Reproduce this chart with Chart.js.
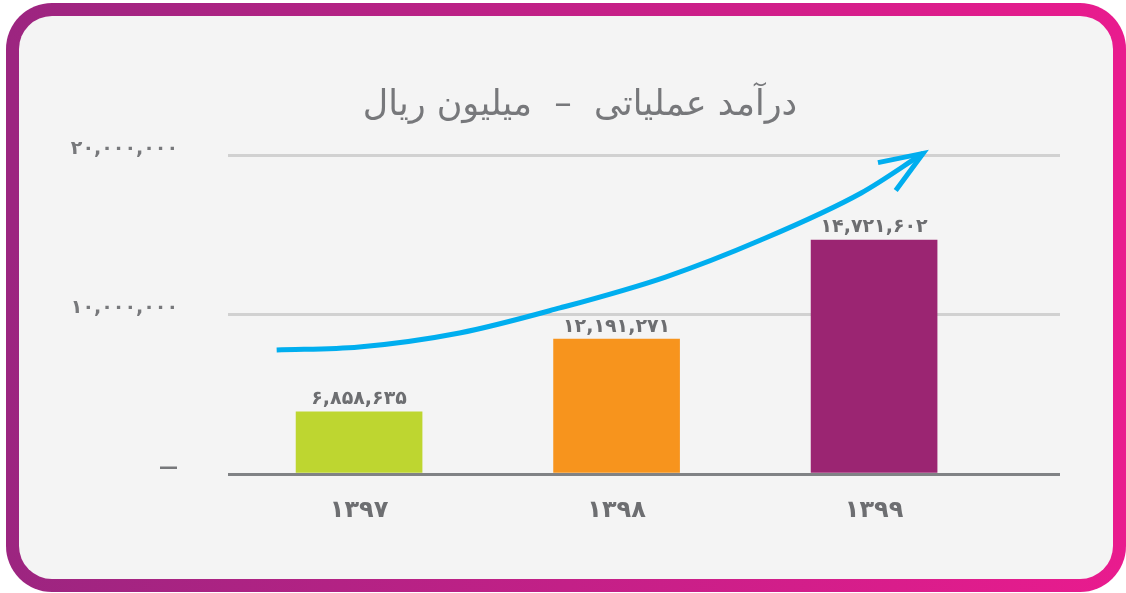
<!DOCTYPE html>
<html>
<head>
<meta charset="utf-8">
<script src="https://cdn.jsdelivr.net/npm/chart.js@4"></script>
<style>
    html, body { margin: 0; padding: 0; background: #ffffff; }
    #frame {
        position: absolute; left: 6px; top: 3px; width: 1120px; height: 589px;
        box-sizing: border-box; border: 13px solid transparent; border-radius: 46px;
        background: linear-gradient(#f4f4f4, #f4f4f4) padding-box,
                    linear-gradient(90deg, #9c2580, #e91b8e) border-box;
    }
    #revenueChart { position: absolute; left: 0; top: 0; }
</style>
</head>
<body>
<div id="frame"></div>
<canvas id="revenueChart" width="1126" height="593"></canvas>
<script>
// data
const years = ['۱۳۹۷', '۱۳۹۸', '۱۳۹۹'];
const barHeights = [3890000, 8460000, 14670000];          // bar tops as drawn
const valueLabels = ['۶,۸۵۸,۶۳۵', '۱۲,۱۹۱,۲۷۱', '۱۴,۷۲۱,۶۰۲']; // printed labels
const barColors = ['#bed630', '#f7941d', '#9b2572'];
const yTickLabels = ['—', '۱۰,۰۰۰,۰۰۰', '۲۰,۰۰۰,۰۰۰'];
const titleText = 'درآمد عملیاتی  –  میلیون ریال';

// trend arrow (in data units: category index / value)
const arrowX = [-0.32, 0.0, 0.39, 0.78, 1.19, 1.56, 1.95, 2.19];
const arrowY = [7770000, 7960000, 8840000, 10410000, 12350000, 14670000, 17620000, 20100000];

const textGray = '#6d6e71';
const fontFamily = '"DejaVu Sans", sans-serif';

const titlePlugin = {
    id: 'persianTitle',
    afterDraw(chart) {
        const ctx = chart.ctx;
        ctx.save();
        ctx.font = '35px ' + fontFamily;
        ctx.fillStyle = '#77787b';
        ctx.textAlign = 'center';
        ctx.textBaseline = 'middle';
        ctx.direction = 'rtl';
        ctx.fillText(titleText, chart.width / 2 + 17, 106);
        ctx.restore();
    }
};

const labelsAndArrow = {
    id: 'labelsAndArrow',
    afterDatasetsDraw(chart) {
        const ctx = chart.ctx;
        // value labels above bars
        const bars = chart.getDatasetMeta(0).data;
        ctx.save();
        ctx.font = 'bold 19px ' + fontFamily;
        ctx.fillStyle = textGray;
        ctx.textAlign = 'center';
        ctx.textBaseline = 'bottom';
        bars.forEach((bar, i) => {
            ctx.fillText(valueLabels[i], bar.x, bar.y - 3);
        });
        ctx.restore();

        // arrow head at end of the trend line
        const pts = chart.getDatasetMeta(1).data;
        const tip = pts[pts.length - 1];
        const prev = pts[pts.length - 2];
        const back = Math.atan2(prev.y - tip.y, prev.x - tip.x);
        const len = 46;
        const spread = 21 * Math.PI / 180;
        ctx.save();
        ctx.strokeStyle = '#00aeef';
        ctx.lineWidth = 5;
        ctx.lineCap = 'butt';
        ctx.beginPath();
        ctx.moveTo(tip.x + len * Math.cos(back + spread), tip.y + len * Math.sin(back + spread));
        ctx.lineTo(tip.x, tip.y);
        ctx.lineTo(tip.x + len * Math.cos(back - spread), tip.y + len * Math.sin(back - spread));
        ctx.stroke();
        ctx.restore();
    }
};

const ctx = document.getElementById('revenueChart').getContext('2d');
new Chart(ctx, {
    data: {
        datasets: [{
            type: 'bar',
            data: years.map((y, i) => ({ x: i, y: barHeights[i] })),
            backgroundColor: barColors,
            barThickness: 126,
            borderWidth: 0,
            order: 2
        }, {
            type: 'line',
            data: arrowX.map((x, i) => ({ x: x, y: arrowY[i] })),
            borderColor: '#00aeef',
            borderWidth: 5,
            pointRadius: 0,
            cubicInterpolationMode: 'monotone',
            fill: false,
            clip: false,
            order: 1
        }]
    },
    options: {
        responsive: false,
        animation: false,
        layout: {
            padding: { left: 0, right: 66, top: 155, bottom: 0 }
        },
        plugins: {
            legend: { display: false },
            tooltip: { enabled: false },
            title: { display: false }
        },
        scales: {
            x: {
                type: 'linear',
                offset: false,
                min: -0.509,
                max: 2.722,
                afterBuildTicks: scale => {
                    scale.ticks = years.map((y, i) => ({ value: i }));
                },
                afterFit: scale => { scale.height = 119; },
                grid: { display: false },
                border: { display: false },
                ticks: {
                    callback: v => years[v],
                    color: textGray,
                    padding: 14,
                    maxRotation: 0,
                    font: { family: fontFamily, size: 24, weight: 'bold' }
                }
            },
            y: {
                min: 0,
                max: 20000000,
                afterFit: scale => { scale.width = 228; },
                afterBuildTicks: scale => {
                    scale.ticks = yTickLabels.map((t, i) => ({ value: i * 10000000 }));
                },
                grid: {
                    drawTicks: false,
                    color: c => c.tick && c.tick.value === 0 ? '#808285' : '#d1d1d1',
                    lineWidth: 3
                },
                border: { display: false },
                ticks: {
                    callback: (v, i) => yTickLabels[i],
                    color: '#77787b',
                    padding: 50,
                    labelOffset: -6,
                    font: { family: fontFamily, size: 19, weight: 'bold' }
                }
            }
        }
    },
    plugins: [titlePlugin, labelsAndArrow]
});
</script>
</body>
</html>
